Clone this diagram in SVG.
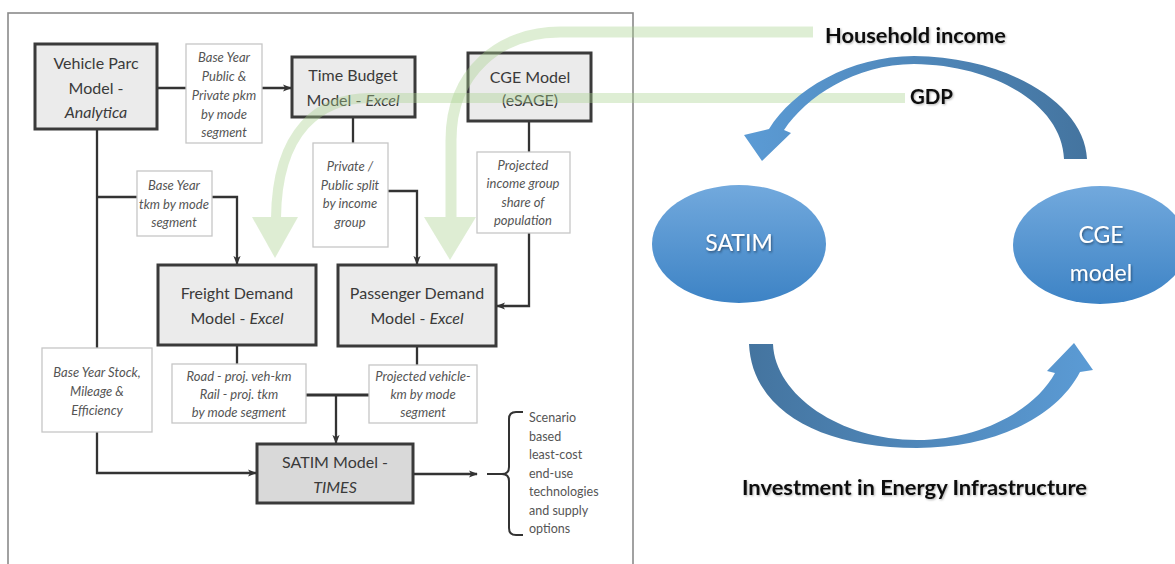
<svg xmlns="http://www.w3.org/2000/svg" width="1175" height="564" viewBox="0 0 1175 564">
  <defs>
    <style>
      .frame { fill: none; stroke: #8a8a8a; stroke-width: 1.6; }
      .model { fill: #ebebeb; stroke: #3a3a3a; stroke-width: 3; }
      .model.dark { fill: #d9d9d9; }
      .label { fill: #ffffff; stroke: #c6c6c6; stroke-width: 1.3; }
      .mt { font-family: Lato, "Liberation Sans", sans-serif; font-size: 16px; fill: #3a3a3a; text-anchor: middle; }
      .lt { font-family: Lato, "Liberation Sans", sans-serif; font-size: 13px; font-style: italic; fill: #555555; text-anchor: middle; }
      .ot { font-family: Lato, "Liberation Sans", sans-serif; font-size: 12.5px; fill: #555555; }
      .it { font-style: italic; }
      .conn { fill: none; stroke: #333333; stroke-width: 2.3; }
      .arrow { marker-end: url(#ah); }
      .band { fill: none; stroke: #a9d18e; }
      .head { fill: #a9d18e; }
      .big { font-family: Lato, "Liberation Sans", sans-serif; font-weight: bold; font-size: 21px; fill: #111111; }
      .ellt { font-family: Lato, "Liberation Sans", sans-serif; font-size: 23px; fill: #ffffff; text-anchor: middle; }
    </style>
    <marker id="ah" viewBox="0 0 10 10" refX="9" refY="5" markerWidth="9" markerHeight="9" markerUnits="userSpaceOnUse" orient="auto">
      <path d="M0,1 L10,5 L0,9 L2.5,5 z" fill="#333333"/>
    </marker>
    <linearGradient id="ellFill" x1="0" y1="0" x2="0" y2="1">
      <stop offset="0" stop-color="#72a9dd"/>
      <stop offset="1" stop-color="#3d83c5"/>
    </linearGradient>
    <linearGradient id="topArc" gradientUnits="userSpaceOnUse" x1="744" y1="0" x2="1087" y2="0">
      <stop offset="0" stop-color="#5b9bd5"/>
      <stop offset="1" stop-color="#44749f"/>
    </linearGradient>
    <linearGradient id="botArc" gradientUnits="userSpaceOnUse" x1="749" y1="0" x2="1093" y2="0">
      <stop offset="0" stop-color="#44749f"/>
      <stop offset="1" stop-color="#5b9bd5"/>
    </linearGradient>
    <filter id="whiteShadow" x="-20%" y="-30%" width="140%" height="160%">
      <feDropShadow dx="1" dy="1.5" stdDeviation="1" flood-color="#1c3550" flood-opacity="0.7"/>
    </filter>
    <filter id="darkShadow" x="-10%" y="-30%" width="120%" height="160%">
      <feDropShadow dx="1" dy="1" stdDeviation="1" flood-color="#000000" flood-opacity="0.3"/>
    </filter>
  </defs>

  <rect width="1175" height="564" fill="#ffffff"/>

  <!-- panel frame around the model chain -->
  <rect class="frame" x="8" y="13" width="625" height="600"/>

  <!-- connectors -->
  <g id="connectors">
    <path class="conn arrow" d="M157 88 H291"/>
    <path class="conn" d="M97 129 V348"/>
    <path class="conn arrow" d="M97 197 H237 V264"/>
    <path class="conn" d="M353 117 V143"/>
    <path class="conn arrow" d="M388 191 H417 V264"/>
    <path class="conn" d="M529 121 V152"/>
    <path class="conn arrow" d="M529 233 V306 H497"/>
    <path class="conn" d="M237 345 V364"/>
    <path class="conn" d="M417 346 V365"/>
    <path class="conn" d="M306 395 H369" style="stroke-width:2.8"/>
    <path class="conn arrow" d="M336 395 V443"/>
    <path class="conn arrow" d="M97 432 V473 H256"/>
    <path class="conn arrow" d="M413 474 H477"/>
    <path class="conn" d="M487 474 H502 Q509 474 509 467 V419 Q509 412 516 412 H523 M502 474 Q509 474 509 481 V528 Q509 535 516 535 H523" style="stroke-width:2"/>
  </g>

  <!-- data labels -->
  <g id="lbl-pkm">
    <rect class="label" x="186" y="44" width="76" height="99"/>
    <text class="lt" x="224" y="62">Base Year</text>
    <text class="lt" x="224" y="81">Public &amp;</text>
    <text class="lt" x="224" y="100">Private pkm</text>
    <text class="lt" x="224" y="119">by mode</text>
    <text class="lt" x="224" y="137">segment</text>
  </g>
  <g id="lbl-tkm">
    <rect class="label" x="137" y="171" width="75" height="65"/>
    <text class="lt" x="174" y="190">Base Year</text>
    <text class="lt" x="174" y="209">tkm by mode</text>
    <text class="lt" x="174" y="227">segment</text>
  </g>
  <g id="lbl-split">
    <rect class="label" x="313" y="143" width="75" height="104"/>
    <text class="lt" x="350" y="171">Private /</text>
    <text class="lt" x="350" y="190">Public split</text>
    <text class="lt" x="350" y="208">by income</text>
    <text class="lt" x="350" y="227">group</text>
  </g>
  <g id="lbl-share">
    <rect class="label" x="477" y="152" width="93" height="81"/>
    <text class="lt" x="523" y="170">Projected</text>
    <text class="lt" x="523" y="188">income group</text>
    <text class="lt" x="523" y="207">share of</text>
    <text class="lt" x="523" y="225">population</text>
  </g>
  <g id="lbl-stock">
    <rect class="label" x="42" y="348" width="110" height="84"/>
    <text class="lt" x="97" y="377">Base Year Stock,</text>
    <text class="lt" x="97" y="396">Mileage &amp;</text>
    <text class="lt" x="97" y="415">Efficiency</text>
  </g>
  <g id="lbl-freight-out">
    <rect class="label" x="172" y="364" width="134" height="59"/>
    <text class="lt" x="239" y="381">Road - proj. veh-km</text>
    <text class="lt" x="239" y="399">Rail - proj. tkm</text>
    <text class="lt" x="239" y="417">by mode segment</text>
  </g>
  <g id="lbl-pass-out">
    <rect class="label" x="369" y="365" width="108" height="58"/>
    <text class="lt" x="423" y="381">Projected vehicle-</text>
    <text class="lt" x="423" y="399">km by mode</text>
    <text class="lt" x="423" y="417">segment</text>
  </g>

  <!-- models -->
  <g id="vehicle-parc">
    <rect class="model" x="35" y="44" width="122" height="85"/>
    <text class="mt" x="96" y="69">Vehicle Parc</text>
    <text class="mt" x="96" y="94">Model -</text>
    <text class="mt it" x="96" y="118">Analytica</text>
  </g>
  <g id="time-budget">
    <rect class="model" x="292" y="57" width="123" height="60"/>
    <text class="mt" x="353" y="81">Time Budget</text>
    <text class="mt" x="353" y="106">Model - <tspan class="it">Excel</tspan></text>
  </g>
  <g id="cge-esage">
    <rect class="model" x="468" y="53" width="123" height="68"/>
    <text class="mt" x="530" y="83">CGE Model</text>
    <text class="mt" x="530" y="106">(eSAGE)</text>
  </g>
  <g id="freight-demand">
    <rect class="model" x="158" y="265" width="158" height="80"/>
    <text class="mt" x="237" y="299">Freight Demand</text>
    <text class="mt" x="237" y="324">Model - <tspan class="it">Excel</tspan></text>
  </g>
  <g id="passenger-demand">
    <rect class="model" x="338" y="265" width="158" height="81"/>
    <text class="mt" x="417" y="299">Passenger Demand</text>
    <text class="mt" x="417" y="324">Model - <tspan class="it">Excel</tspan></text>
  </g>
  <g id="satim-times">
    <rect class="model dark" x="257" y="444" width="156" height="59"/>
    <text class="mt" x="335" y="468">SATIM Model -</text>
    <text class="mt it" x="335" y="493">TIMES</text>
  </g>
  <g id="outputs">
    <text class="ot" x="529" y="422">Scenario</text>
    <text class="ot" x="529" y="441">based</text>
    <text class="ot" x="529" y="459">least-cost</text>
    <text class="ot" x="529" y="478">end-use</text>
    <text class="ot" x="529" y="496">technologies</text>
    <text class="ot" x="529" y="515">and supply</text>
    <text class="ot" x="529" y="533">options</text>
  </g>

  <!-- feedback flows from the linked loop into the demand models -->
  <g id="flow-household" opacity="0.38">
    <path class="band" d="M813 32 H560 C500 32 451 72 451 140 V218" stroke-width="11"/>
    <polygon class="head" points="424,217 476,217 450,260"/>
  </g>
  <g id="flow-gdp" opacity="0.38">
    <path class="band" d="M905 98 H370 C320 98 277 130 276 218" stroke-width="10"/>
    <polygon class="head" points="252,217 298,217 275,258"/>
  </g>

  <!-- SATIM / CGE loop -->
  <g id="loop-top">
    <path fill="url(#topArc)" d="M1064 159 L1087 159 C1085 105 1010 57 914 56 C850 56 793 90 769 129 L744 135 L762 161 L791 133 L784 130 C806 97 855 64 914 64 C995 65 1062 105 1064 159 Z"/>
  </g>
  <g id="loop-bottom">
    <path fill="url(#botArc)" d="M749 344 L773 344 C775 395 840 440 917 440 C980 440 1035 410 1055 373 L1047 371 L1074 343 L1093 370 L1080 372 C1055 420 990 448 917 448 C820 448 752 410 749 344 Z"/>
  </g>
  <g id="satim">
    <ellipse cx="739" cy="244" rx="87" ry="59" fill="url(#ellFill)"/>
    <text class="ellt" x="739" y="251" filter="url(#whiteShadow)">SATIM</text>
  </g>
  <g id="cge">
    <ellipse cx="1100" cy="245" rx="87" ry="59" fill="url(#ellFill)"/>
    <text class="ellt" x="1101" y="243" filter="url(#whiteShadow)">CGE</text>
    <text class="ellt" x="1101" y="281" filter="url(#whiteShadow)">model</text>
  </g>
  <g id="loop-labels" filter="url(#darkShadow)">
    <text class="big" x="825" y="43" textLength="181" lengthAdjust="spacingAndGlyphs">Household income</text>
    <text class="big" x="910" y="104" textLength="43" lengthAdjust="spacingAndGlyphs">GDP</text>
    <text class="big" x="742" y="495" textLength="345" lengthAdjust="spacingAndGlyphs">Investment in Energy Infrastructure</text>
  </g>
</svg>
